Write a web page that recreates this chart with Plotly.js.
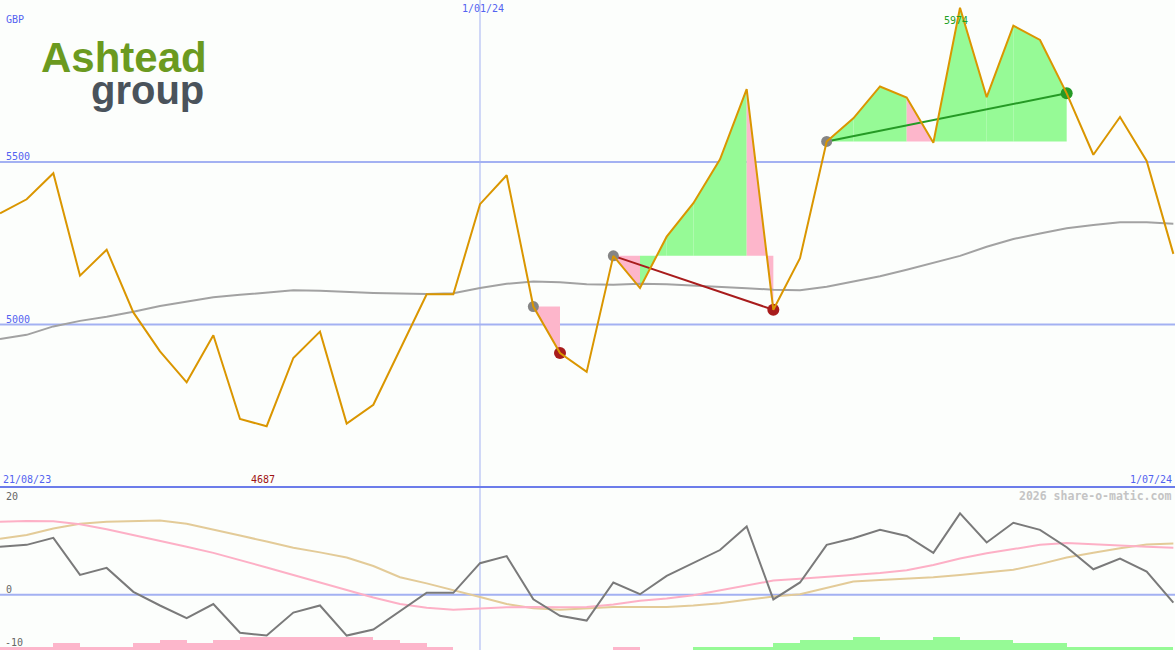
<!DOCTYPE html>
<html>
<head>
<meta charset="utf-8">
<script src="https://cdn.plot.ly/plotly-3.0.1.min.js"></script>
<style>
html,body{margin:0;padding:0;background:#fcfefc;}
#chart{width:1175px;height:650px;}
</style>
</head>
<body>
<div id="chart"></div>
<script>
// ---- data ----
const dateLabels = ['21/08/23', '1/01/24', '1/07/24'];
const dateLabelIdx = [0, 18, 44];
const price = [5342,5385,5465,5150,5230,5037,4917,4822,4967,4709,4687,4897,4978,4695,4753,4923,5093,5093,5370,5459,5055,4912,4854,5211,5112,5270,5373,5508,5724,5045,5204,5563,5634,5732,5698,5559,5974,5699,5919,5875,5711,5522,5638,5503,5217];
const movingAvg = [4955,4968,4994,5011,5024,5039,5057,5071,5084,5091,5097,5105,5104,5100,5097,5095,5094,5096,5112,5125,5132,5130,5124,5122,5125,5124,5119,5116,5111,5107,5105,5116,5131,5148,5168,5190,5211,5239,5263,5280,5296,5306,5314,5314,5310];
const priceLevels = [5500, 5000];
const oscLevels = [20, 0, -10];
const oscillator = [10.2,10.6,12.1,4.2,5.7,0.6,-2.3,-5.0,-2.0,-8.1,-8.7,-3.8,-2.3,-8.7,-7.4,-3.5,0.4,0.4,6.7,8.2,-1.0,-4.5,-5.5,2.6,0.1,4.0,6.7,9.5,14.5,-1.0,2.6,10.6,12.0,13.8,12.5,8.9,17.3,11.1,15.3,13.8,10.1,5.4,7.7,4.9,-1.7];
const signalPink = [15.5,15.7,15.6,15.0,13.9,12.7,11.4,10.2,8.9,7.4,5.8,4.2,2.6,1.0,-0.6,-2.0,-2.8,-3.2,-2.9,-2.7,-2.6,-2.7,-2.6,-2.1,-1.3,-0.8,-0.1,0.9,1.9,3.0,3.4,3.8,4.2,4.6,5.2,6.3,7.7,8.8,9.7,10.6,11.0,10.7,10.5,10.2,10.0];
const signalTan = [11.9,12.7,14.1,15.1,15.5,15.6,15.8,15.1,13.9,12.6,11.3,10.0,9.0,7.9,6.1,3.7,2.4,1.0,-0.5,-2.0,-2.9,-3.2,-2.9,-2.6,-2.6,-2.6,-2.3,-1.8,-1.1,-0.4,0.1,1.4,2.8,3.1,3.4,3.7,4.2,4.7,5.3,6.5,7.9,8.9,9.9,10.7,10.9];
const histogram = [-1,-1,-2,-1,-1,-2,-3,-2,-3,-4,-4,-4,-4,-4,-3,-2,-1,0,0,0,0,0,0,-1,0,0,1,1,1,2,3,3,4,3,3,4,3,3,2,2,1,1,1,1];
const zoneStart = [20, 23, 31];
const zoneEnd = [21, 29, 40];
const zoneSegSign = [[-1], [-1,1,1,1,1,-1], [1,1,1,-1,1,1,1,1,1]];
const currency = 'GBP';
const watermark = '2026 share-o-matic.com';
const logoWords = ['Ashtead', 'group'];

// ---- drawing ----
const W = 1175, H = 650, SPLIT = 487;
const splitPaper = 1 - SPLIT / H;
const idx = price.map((_, i) => i);
const PINK = '#fdb6cb', GREEN = '#96fa96', RED = '#a81c1c', DGREEN = '#259a25', GRAYDOT = '#858585';
const BLUE = '#5363f0', LBLUE = '#a3b1f2';
const MONO = 'DejaVu Sans Mono, monospace';

const traces = [];
// histogram
traces.push({
  type: 'bar', xaxis: 'x', yaxis: 'y3',
  x: histogram.map((_, j) => j + 0.5),
  y: histogram.map(v => Math.abs(v)),
  width: 1,
  marker: {color: histogram.map(v => v < 0 ? PINK : GREEN), line: {width: 0}},
  hoverinfo: 'skip'
});
// zone fills
zoneStart.forEach((s, z) => {
  const level = price[s];
  zoneSegSign[z].forEach((sg, k) => {
    const a = s + k, b = a + 1;
    traces.push({
      type: 'scatter', mode: 'lines', xaxis: 'x', yaxis: 'y',
      x: [a, b, b, a, a], y: [price[a], price[b], level, level, price[a]],
      fill: 'toself', fillcolor: sg < 0 ? PINK : GREEN,
      line: {width: 0}, hoverinfo: 'skip'
    });
  });
});
// moving average
traces.push({type: 'scatter', mode: 'lines', x: idx, y: movingAvg, line: {color: '#a2a2a2', width: 2}, hoverinfo: 'skip'});
// trend lines & dots
zoneStart.forEach((s, z) => {
  const e = zoneEnd[z];
  const up = price[e] > price[s];
  if (e - s > 1) {
    traces.push({type: 'scatter', mode: 'lines', x: [s, e], y: [price[s], price[e]],
      line: {color: up ? DGREEN : RED, width: 2}, hoverinfo: 'skip'});
  }
  traces.push({type: 'scatter', mode: 'markers', x: [s], y: [price[s]],
    marker: {color: GRAYDOT, size: 11}, hoverinfo: 'skip'});
  traces.push({type: 'scatter', mode: 'markers', x: [e], y: [price[e]],
    marker: {color: up ? DGREEN : RED, size: 12}, hoverinfo: 'skip'});
});
// price
traces.push({type: 'scatter', mode: 'lines', x: idx, y: price, line: {color: '#da9600', width: 2}, hoverinfo: 'skip'});
// oscillator panel
traces.push({type: 'scatter', mode: 'lines', xaxis: 'x', yaxis: 'y2', x: idx, y: signalTan, line: {color: '#e3cb98', width: 2}, hoverinfo: 'skip'});
traces.push({type: 'scatter', mode: 'lines', xaxis: 'x', yaxis: 'y2', x: idx, y: signalPink, line: {color: '#fdb0c6', width: 2}, hoverinfo: 'skip'});
traces.push({type: 'scatter', mode: 'lines', xaxis: 'x', yaxis: 'y2', x: idx, y: oscillator, line: {color: '#7a7a7a', width: 2}, hoverinfo: 'skip'});

// shapes
const shapes = [];
priceLevels.forEach(v => shapes.push({type: 'line', xref: 'paper', yref: 'y', x0: 0, x1: 1, y0: v, y1: v, line: {color: LBLUE, width: 2}, layer: 'below'}));
shapes.push({type: 'line', xref: 'paper', yref: 'y2', x0: 0, x1: 1, y0: 0, y1: 0, line: {color: LBLUE, width: 2}, layer: 'below'});
shapes.push({type: 'line', xref: 'x', yref: 'paper', x0: dateLabelIdx[1], x1: dateLabelIdx[1], y0: 0, y1: 1, line: {color: LBLUE, width: 1}, layer: 'below'});
shapes.push({type: 'line', xref: 'paper', yref: 'paper', x0: 0, x1: 1, y0: splitPaper, y1: splitPaper, line: {color: '#6c7cea', width: 2}, layer: 'above'});

// annotations
function ann(text, px, py, xanchor, color, size, extra) {
  return Object.assign({text: text, xref: 'paper', yref: 'paper', x: px / W, y: 1 - py / H,
    xanchor: xanchor, yanchor: 'middle', showarrow: false,
    font: {family: MONO, size: size, color: color}}, extra || {});
}
const ymin = price.indexOf(Math.min(...price));
const ymax = price.indexOf(Math.max(...price));
const LOGO = 'Liberation Sans, Arial, sans-serif';
const annotations = [
  ann(currency, 4, 19, 'left', BLUE, 10),
  ann(String(priceLevels[0]), 4, 156, 'left', BLUE, 10),
  ann(String(priceLevels[1]), 4, 319, 'left', BLUE, 10),
  ann(dateLabels[1], 483, 9, 'center', BLUE, 10),
  ann(dateLabels[0], 1, 479, 'left', BLUE, 10),
  ann(dateLabels[2], 1174, 479, 'right', BLUE, 10),
  {text: String(Math.min(...price)), xref: 'x', yref: 'paper', x: ymin - 0.15, y: 1 - 479 / H, xanchor: 'center', yanchor: 'middle', showarrow: false, font: {family: MONO, size: 10, color: '#a01414'}},
  {text: String(Math.max(...price)), xref: 'x', yref: 'paper', x: ymax - 0.15, y: 1 - 21 / H, xanchor: 'center', yanchor: 'middle', showarrow: false, font: {family: MONO, size: 10, color: '#23a023'}},
  ann(String(oscLevels[0]), 4, 496, 'left', '#666', 10),
  ann(String(oscLevels[1]), 4, 589, 'left', '#666', 10),
  ann(String(oscLevels[2]), 3, 642, 'left', '#666', 10),
  ann('<b>' + watermark + '</b>', 1173, 496, 'right', '#c4c4c4', 11.5),
  ann('<b>' + logoWords[0] + '</b>', 39, 58, 'left', '#6b9a1f', 42, {font: {family: LOGO, size: 42, color: '#6b9a1f'}}),
  ann('<b>' + logoWords[1] + '</b>', 89, 90, 'left', '#4a535b', 40, {font: {family: LOGO, size: 40, color: '#4a535b'}})
];

const layout = {
  width: W, height: H,
  margin: {l: 0, r: 0, t: 0, b: 0, pad: 0},
  paper_bgcolor: '#fcfefc', plot_bgcolor: '#fcfefc',
  showlegend: false, bargap: 0,
  xaxis: {range: [0, W / 26.667], visible: false, fixedrange: true, anchor: 'y2'},
  yaxis: {domain: [splitPaper, 1], range: [4500, 5998], visible: false, fixedrange: true},
  yaxis2: {domain: [0, splitPaper], range: [-11.77, 22.91], visible: false, fixedrange: true},
  yaxis3: {domain: [0, splitPaper], overlaying: 'y2', range: [0, 50], visible: false, fixedrange: true},
  shapes: shapes,
  annotations: annotations
};
Plotly.newPlot('chart', traces, layout, {displayModeBar: false, staticPlot: true});
</script>
</body>
</html>
